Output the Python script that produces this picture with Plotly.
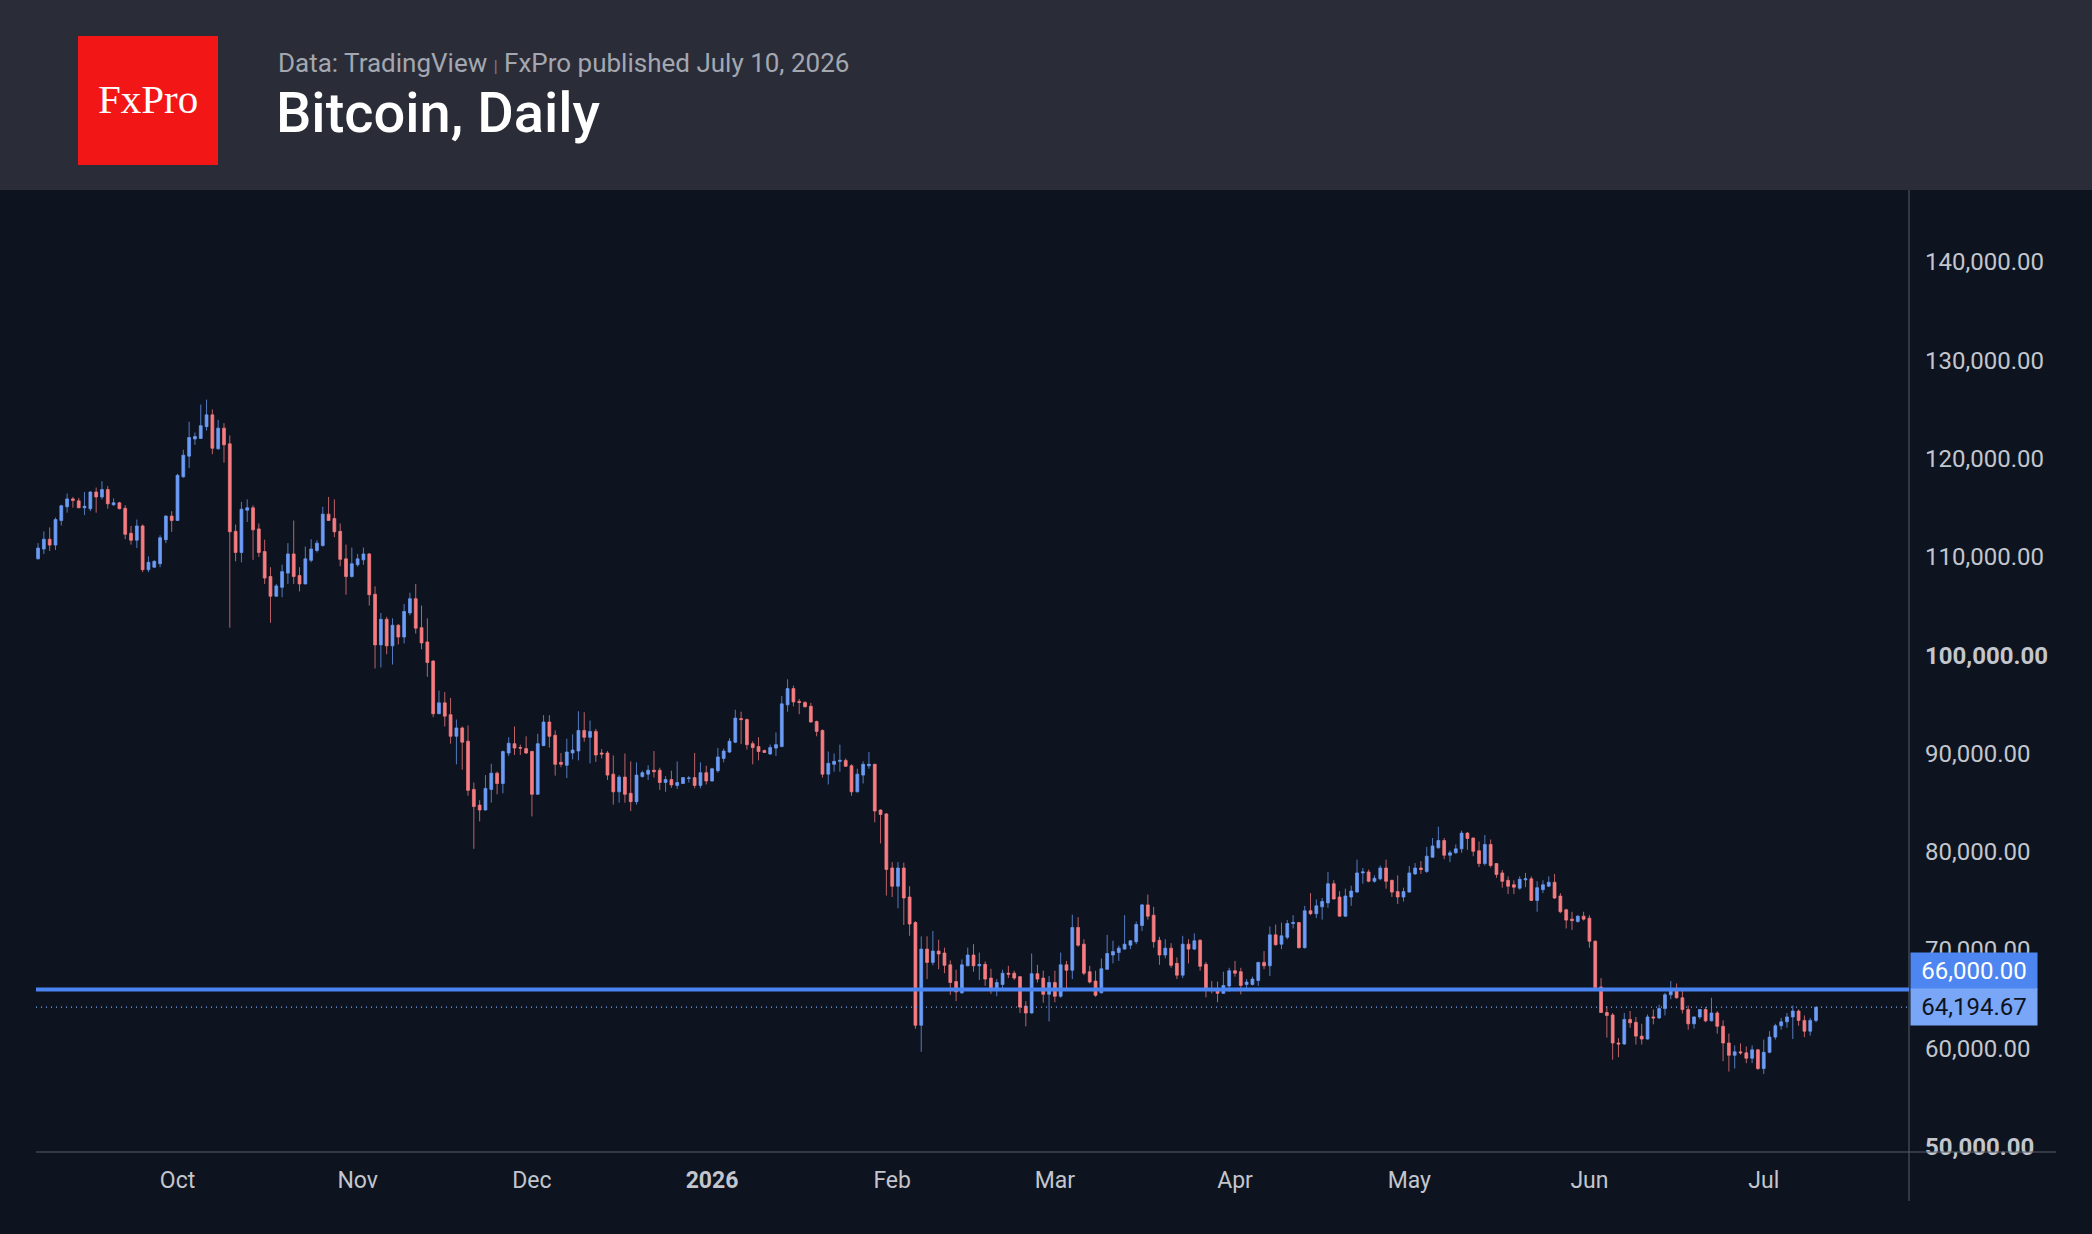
import plotly.graph_objects as go
import pandas as pd

# ---------------- data (Bitcoin daily, 2025-09-07 .. 2026-07-10) ----------------
start_date = "2025-09-07"
n_days = 307

opens = [
    109800,110800,111800,111200,113700,115100,115900,115700,115000,114900,
    116600,116100,116850,115300,115500,114950,112400,111700,113150,108700,
    108950,109300,111750,114150,113700,118150,120250,122000,122050,123250,
    124450,121000,123100,121500,112600,110450,114750,115000,112850,110550,
    108000,106000,106900,108350,110300,108100,107250,109650,110650,111150,
    114350,113900,112600,109800,108000,109200,109700,110300,106200,101050,
    103650,100950,103050,101850,104300,105750,102800,101350,99400,94050,
    95150,93950,91750,92600,91250,86350,84750,84250,86350,88000,
    86950,90050,91000,90600,90500,90200,85850,90800,93200,91850,
    89100,88800,90050,90250,92350,91650,92250,90050,90050,87900,
    86100,87600,85950,85100,87650,87900,88300,88300,87050,87350,
    86750,86950,87450,87550,86750,88050,87200,88250,89500,90150,
    91150,93550,93450,91000,90700,90300,89950,90550,90700,94950,
    96600,95300,95200,94800,93250,92350,87900,88900,89200,89300,
    88750,86100,87800,88750,88900,84250,83850,78350,76500,78350,
    75400,72800,62350,70100,68750,69900,69700,68500,66800,65650,
    68400,69500,68400,68550,67150,66100,66500,67650,67650,67300,
    64300,63600,67600,67150,65500,66700,65300,68500,67950,72300,
    70600,67800,66850,65650,68050,69500,69750,70100,70500,70850,
    72500,74600,73550,71000,69500,70200,68650,67450,70600,70100,
    71000,68550,66050,66000,65600,66350,67900,67800,66500,66500,
    66900,68750,68400,71550,70600,71300,72700,72800,70250,74000,
    73700,74400,74800,76750,75400,73450,75400,75900,77850,77950,
    77000,77250,78350,77100,75950,75400,75900,77750,78350,78000,
    79450,80400,81150,79650,79900,80300,81900,81400,80100,78800,
    80750,78800,77850,77100,76650,76300,77150,77250,75050,76150,
    76500,76900,75500,74100,73150,72900,73450,73250,70900,66250,
    63650,63400,60550,60450,62950,62650,61250,60950,63200,63100,
    64050,65450,65850,65150,63950,62500,63200,63950,62800,63600,
    62250,60550,59300,59650,59550,59000,59850,57950,59600,61150,
    62300,62700,63200,63800,62850,61750,62850,
]
highs = [
    111400,112600,113000,114000,115300,116450,116100,116000,116600,116700,
    117050,117700,117200,115950,115600,115250,113150,113800,113300,110050,
    109650,112200,114250,114650,118450,120900,123750,122650,125500,126000,
    125000,123950,123600,122350,113300,115600,115850,115250,113400,111750,
    108950,107250,109200,111400,113700,108950,111050,111800,111700,115100,
    116100,115850,113400,111250,110950,110300,110950,110400,107000,104300,
    103900,103750,103150,105200,106350,107250,105050,103750,99500,96400,
    96250,95650,93450,92750,92850,87050,85250,87800,88950,88150,
    90300,91650,92750,90900,91750,90300,92000,93900,93900,92350,
    90050,91500,91950,94300,94200,93350,92500,90450,90250,89800,
    87800,90000,89200,89100,88250,88800,90250,88550,87700,88250,
    89200,87600,87700,90050,89100,88750,88550,90550,90500,91550,
    94450,94250,93550,91250,91650,90400,90900,92150,95850,97550,
    96900,95550,95300,95150,93350,92450,90200,90000,90900,89500,
    88900,88450,89200,90150,88950,84300,83950,78950,78950,78900,
    76500,72950,71400,71400,71950,71050,70250,68950,68000,69050,
    70250,70600,69750,68850,68100,67050,68000,68400,67900,67350,
    64800,69650,68500,67900,67350,67900,69750,68900,73600,73350,
    71100,68400,67900,69150,71550,70950,70450,73550,71000,72900,
    74700,75650,74400,71350,71100,70700,69250,71450,71100,71700,
    71100,68800,66850,66800,67800,68200,68900,68200,67050,67300,
    68800,69900,72400,72600,72800,73050,73550,72850,74500,75800,
    75150,75300,77950,77100,76000,76250,76550,79200,78350,78200,
    77600,78600,79200,77150,77600,76350,78550,78850,79050,80500,
    81400,82550,81400,80150,80750,82150,82000,81450,81050,81700,
    81250,78850,78150,77500,77100,77500,77850,77500,77000,77100,
    77500,77750,75800,74200,73900,73550,73900,73550,71000,67150,
    64300,63600,61050,63600,63800,63200,62500,63450,63950,64450,
    65650,66850,66600,66000,64350,63250,64000,64200,65150,63800,
    62850,61500,60300,60500,60200,60300,59950,60900,61750,62500,
    63100,63600,64350,63950,63350,63100,64200,
]
lows = [
    109750,110300,110600,110700,113200,114500,115000,114950,114250,114650,
    114500,115850,114900,115200,114850,111800,111250,110900,108450,108450,
    108900,108950,111400,112550,113650,118050,119050,121400,122000,122850,
    120450,120900,119600,102800,109550,109450,113550,109700,110000,107250,
    103300,105950,105900,107250,107250,106500,107200,109450,110450,111050,
    113650,112000,109050,106150,107900,109000,109200,105050,98650,98750,
    100100,99050,101100,101200,104050,102200,100600,97800,93700,94000,
    92750,91000,88900,88350,85700,80300,83100,84200,85000,85850,
    85950,89750,89850,89850,89950,83600,85800,90750,90600,87750,
    88600,87500,89400,89300,91200,89000,89150,89500,87300,84800,
    85000,85000,84150,84800,87550,87300,87550,86300,86100,86500,
    86400,86900,87050,86450,86450,86850,87150,88050,89100,90050,
    91050,90950,90400,88900,89300,90050,89850,89750,90650,94250,
    94800,94000,94700,93150,91750,87550,86850,88150,88150,88650,
    85700,86050,86950,88450,83000,80850,75550,75400,74250,72550,
    71450,62000,59650,67050,68450,68050,67650,65450,64800,65550,
    68350,67800,66950,66350,65550,65300,66150,67150,66950,63600,
    62250,63550,66700,64650,62750,64700,65150,65950,67050,70350,
    67450,66600,65250,65600,68000,68650,68900,70050,70100,70600,
    71950,73100,70250,68500,69150,68200,67050,67150,68650,70000,
    67900,65200,65600,64700,65550,65750,67300,65500,65950,66400,
    66350,68050,67350,70450,70100,71100,72200,70150,70150,73550,
    73250,73100,74300,75150,73400,73400,74500,75850,76750,76900,
    76850,77100,76250,75400,74700,74950,75850,77650,77750,77850,
    79400,80350,79250,78950,79800,79900,80200,79550,78450,78600,
    78400,77350,76350,75700,75700,76150,76400,75000,73900,75800,
    76400,75200,73750,72200,72050,72800,73000,70250,65850,63600,
    61100,58850,59100,60350,62100,60400,60400,60900,62450,63000,
    63350,65000,65050,63550,61900,62000,63000,62650,62750,61500,
    58700,57650,57950,59350,58500,58500,57800,57400,59500,60900,
    61900,62100,60950,62300,61150,61300,62650,
]
closes = [
    110900,111800,111200,113800,115200,115900,115750,115000,115150,116600,
    116100,116850,115400,115500,114900,112300,111700,113150,108700,109450,
    109550,111950,114150,113700,118300,120350,122150,122250,123350,124450,
    121050,123100,121400,112550,110450,114850,115000,112750,110450,107850,
    106000,107050,108500,110300,108000,107250,109800,110800,111400,114350,
    113700,112550,109750,108000,109300,109800,110300,106150,101050,103650,
    100950,103050,101850,104450,105750,102750,101250,99250,94050,95150,
    93800,91750,92600,91150,86250,84600,84250,86450,88000,86950,
    90200,91050,90550,90550,90050,85850,91000,93200,91750,88900,
    88900,90150,90350,92350,91650,92250,89850,89950,87800,86100,
    87600,85850,85100,87800,88050,88300,88150,87050,87350,86800,
    87050,87550,87500,86750,88050,87200,88450,89650,90250,91250,
    93600,93450,90900,90600,90200,90100,90600,90900,95050,96600,
    95250,95200,94750,93200,92250,87900,89000,89200,89300,88700,
    86100,87900,88900,88900,84150,83800,78200,76500,78350,75300,
    72650,62350,70100,68750,69900,69600,68450,66700,65750,68500,
    69500,68400,68550,67050,66000,66700,67650,67550,67150,64200,
    63600,67600,67050,65500,66700,65300,68500,67950,72300,70500,
    67650,66750,65400,68100,69650,69850,70200,70600,70950,72600,
    74600,73450,70850,69500,70200,68450,67450,70600,70100,70950,
    68350,65900,65900,65600,66400,67900,67650,66400,66750,67050,
    68750,68400,71550,70550,71450,72700,72800,70250,74000,73700,
    74500,74950,76750,75200,73450,75500,76000,77850,77950,77000,
    77300,78350,77000,75900,75400,75950,77850,78350,78200,79550,
    80600,81150,79650,79900,80300,81900,81350,80050,78800,80750,
    78600,77700,77000,76500,76400,77200,77250,75050,76350,76650,
    76900,75300,73900,73050,73000,73450,73150,70900,66200,63650,
    63350,60550,60450,62950,62600,61250,60950,63200,63100,64050,
    65450,65850,65150,63950,62500,63200,63950,62800,63600,62250,
    60550,59300,59650,59550,59000,59850,57950,59600,61150,62300,
    62700,63200,63800,62850,61750,62850,64194.67,
]

level_price = 66000
y_ticks = [50000, 60000, 70000, 80000, 90000, 100000, 110000, 120000, 130000, 140000]
x_tick_dates = ["2025-10-01", "2025-11-01", "2025-12-01", "2026-01-01", "2026-02-01",
                "2026-03-01", "2026-04-01", "2026-05-01", "2026-06-01", "2026-07-01"]
x_tick_labels = ["Oct", "Nov", "Dec", "2026", "Feb", "Mar", "Apr", "May", "Jun", "Jul"]

title_text = "Bitcoin, Daily"
source_text = "Data: TradingView"
published_text = "FxPro published July 10, 2026"
logo_text = "FxPro"

dates = pd.date_range(start_date, periods=n_days, freq="D")

# ---------------- layout geometry (pixels) ----------------
W, H = 2092, 1234
L, R, T, B = 36, 1909, 190, 1152
PW, PH = R - L, B - T

def px(xp):
    return (xp - L) / PW

def py(yp):
    return (B - yp) / PH

BG = "#0d1420"
HEADER = "#2a2d38"
AXIS = "#5a5e69"
LABEL = "#c3c6cc"
FONT = "Roboto"

fig = go.Figure()
fig.add_trace(go.Candlestick(
    x=dates, open=opens, high=highs, low=lows, close=closes,
    increasing=dict(line=dict(color="rgba(108,156,245,0.75)", width=1), fillcolor="#6c9cf5"),
    decreasing=dict(line=dict(color="rgba(247,124,128,0.75)", width=1), fillcolor="#f77c80"),
    whiskerwidth=0, showlegend=False, hoverinfo="skip",
))

def fmt(v):
    s = f"{v:,.2f}"
    return f"<b>{s}</b>" if v in (50000, 100000) else s

shapes = [
    # header band
    dict(type="rect", xref="paper", yref="paper", x0=px(0), x1=px(W), y0=py(T), y1=py(0),
         fillcolor=HEADER, line=dict(width=0), layer="above"),
    # logo
    dict(type="rect", xref="paper", yref="paper", x0=px(78), x1=px(218), y0=py(165), y1=py(36),
         fillcolor="#f21616", line=dict(width=0), layer="above"),
    # price scale border and time scale border
    dict(type="line", xref="paper", yref="paper", x0=px(R), x1=px(R), y0=py(1201), y1=py(T),
         line=dict(color=AXIS, width=1)),
    dict(type="line", xref="paper", yref="paper", x0=px(L), x1=px(2056), y0=0, y1=0,
         line=dict(color=AXIS, width=1)),
    # horizontal level
    dict(type="line", xref="paper", yref="y", x0=0, x1=1, y0=level_price, y1=level_price,
         line=dict(color="#4a84f0", width=4)),
    # last price dotted line
    dict(type="line", xref="paper", yref="y", x0=0, x1=1, y0=closes[-1], y1=closes[-1],
         line=dict(color="#7aa6f7", width=1.3, dash="1px,4px")),
]

annotations = [
    dict(xref="paper", yref="paper", x=px(148), y=py(99), text=logo_text, showarrow=False,
         font=dict(family="Liberation Serif", size=41, color="white"), xanchor="center", yanchor="middle"),
    dict(xref="paper", yref="paper", x=px(276), y=py(63), showarrow=False, xanchor="left", yanchor="middle",
         text=f"{source_text} <span style='font-size:16px;color:#7d808a'>|</span> {published_text}",
         font=dict(family=FONT, size=26, color="#a4a7b0")),
    dict(xref="paper", yref="paper", x=px(274), y=py(113), showarrow=False, xanchor="left", yanchor="middle",
         text=title_text, font=dict(family=FONT, size=56, color="#ffffff", weight=500)),
    dict(xref="paper", yref="y", x=1, y=level_price, showarrow=False, xanchor="left", yanchor="bottom",
         text=f"{level_price:,.2f}", bgcolor="#4d86f0", font=dict(family=FONT, size=24, color="white"),
         width=118, height=28, borderpad=4, align="center", xshift=1, yshift=-1),
    dict(xref="paper", yref="y", x=1, y=closes[-1], showarrow=False, xanchor="left", yanchor="middle",
         text=f"{closes[-1]:,.2f}", bgcolor="#7aa6f7", font=dict(family=FONT, size=24, color="#0d1320"),
         width=118, height=28, borderpad=4, align="center", xshift=1),
]

fig.update_layout(
    width=W, height=H,
    margin=dict(l=L, r=W - R, t=T, b=H - B, pad=0),
    paper_bgcolor=BG, plot_bgcolor=BG,
    showlegend=False,
    shapes=shapes, annotations=annotations,
    xaxis=dict(
        type="date",
        range=["2025-09-06 15:30", "2026-07-26 00:00"],
        rangeslider=dict(visible=False),
        showgrid=False, zeroline=False, showline=False,
        tickvals=x_tick_dates,
        ticktext=[f"<b>{t}</b>" if t == "2026" else t for t in x_tick_labels],
        tickfont=dict(family=FONT, size=23, color=LABEL),
        ticks="", ticklabelstandoff=12,
    ),
    yaxis=dict(
        side="right",
        range=[49460, 147325],
        showgrid=False, zeroline=False, showline=False,
        tickvals=y_ticks,
        ticktext=[fmt(v) for v in y_ticks],
        tickfont=dict(family=FONT, size=24, color=LABEL),
        ticks="", ticklabelstandoff=15,
    ),
)

fig.write_html("out.html")
